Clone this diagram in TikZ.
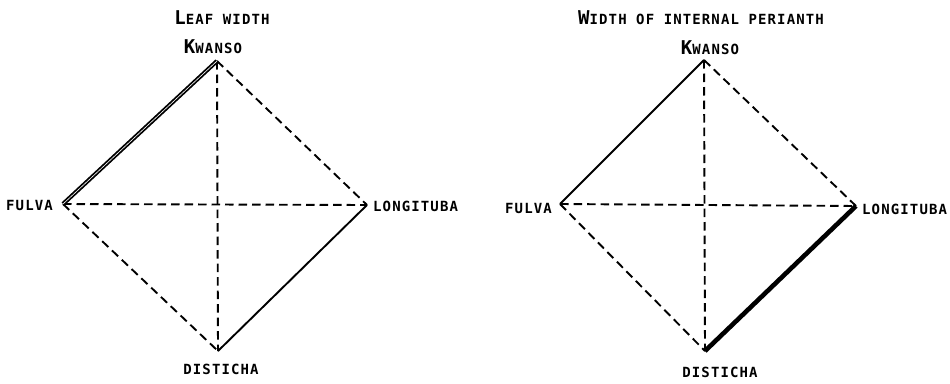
\documentclass[tikz,border=0pt]{standalone}
\usepackage{fontspec}
\setmonofont{DejaVu Sans Mono}[LetterSpace=8]
\newcommand{\initcap}[1]{{\fontsize{19}{20}\selectfont #1}}
\begin{document}
\begin{tikzpicture}[x=1pt,y=-1pt,
  lbl/.style={font=\ttfamily\bfseries\fontsize{14}{15}\selectfont, inner sep=0pt},
  solidedge/.style={line width=1.9pt},
  dashedge/.style={line width=1.9pt, dash pattern=on 8.5pt off 5pt},
  heavyedge/.style={line width=4.6pt},
  doubleedge/.style={line width=1.8pt, double=white, double distance=0.6pt},
]
\useasboundingbox (0,0) rectangle (950,383);

% ---- left diagram: leaf width ----
\coordinate (lK) at (217,61);
\coordinate (lF) at (63,204);
\coordinate (lL) at (367,205);
\coordinate (lD) at (218,351);
\node[lbl] (lT) at (222,18) {\initcap{L}EAF WIDTH};
\node[lbl] (lKt) at (213,47) {\initcap{K}WANSO};
\node[lbl, anchor=east] (lFt) at (53,205) {FULVA};
\node[lbl, anchor=west] (lLt) at (373,206) {LONGITUBA};
\node[lbl] (lDt) at (221,369) {DISTICHA};

\draw[dashedge] (lK) -- (lD);
\draw[dashedge] (lF) -- (lL);
\draw[dashedge] (lK) -- (lL);
\draw[dashedge] (lF) -- (lD);
\draw[solidedge] (lL) -- (lD);
\draw[doubleedge] (lF) -- (lK);

% ---- right diagram: width of internal perianth ----
\coordinate (rK) at (704,60);
\coordinate (rF) at (560,204);
\coordinate (rL) at (856,206);
\coordinate (rD) at (705,351);
\node[lbl] (rT) at (701,18) {\initcap{W}IDTH OF INTERNAL PERIANTH};
\node[lbl] (rKt) at (710,48) {\initcap{K}WANSO};
\node[lbl, anchor=east] (rFt) at (552,208) {FULVA};
\node[lbl, anchor=west] (rLt) at (862,209) {LONGITUBA};
\node[lbl] (rDt) at (720,372) {DISTICHA};

\draw[dashedge] (rK) -- (rD);
\draw[dashedge] (rF) -- (rL);
\draw[dashedge] (rK) -- (rL);
\draw[dashedge] (rF) -- (rD);
\draw[solidedge] (rF) -- (rK);
\draw[heavyedge] (rL) -- (rD);
\end{tikzpicture}
\end{document}
